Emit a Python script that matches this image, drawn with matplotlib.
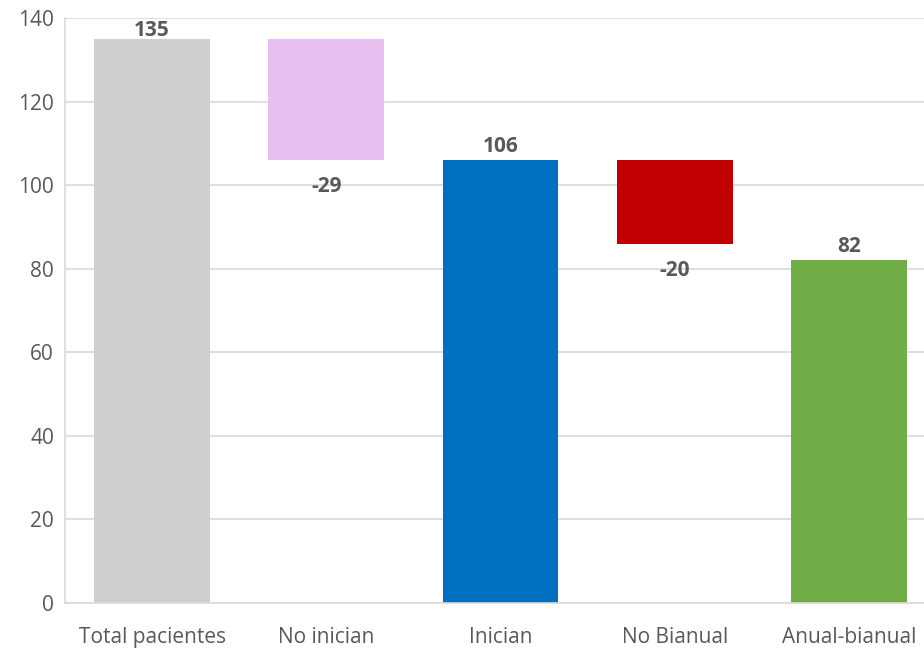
import matplotlib.pyplot as plt

plt.rcParams['font.family'] = ['Open Sans', 'DejaVu Sans']

categories = ["Total pacientes", "No inician", "Inician", "No Bianual", "Anual-bianual"]
values = [135, -29, 106, -20, 82]
is_total = [True, False, True, False, True]
colors = ["#D0CECE", "#E6C0F0", "#0070C0", "#C00000", "#70AD47"]

Y_MAX = 140

fig = plt.figure(figsize=(9.24, 6.5), dpi=100)
ax = fig.add_axes([65 / 924, 47 / 650, 871 / 924, 585 / 650])

prev_total = 0
for i, (cat, v, tot, c) in enumerate(zip(categories, values, is_total, colors)):
    if tot:
        bottom, height = 0, v
        prev_total = v
        ax.bar(i, height, bottom=bottom, width=0.665, color=c, zorder=2)
        # label sits above the bar, pushed down when near the top of the plot
        y = min(v + 0.8, Y_MAX - 5.6)
        ax.text(i, y, str(v), ha="center", va="bottom", fontsize=15,
                fontweight="bold", color="#595959")
    else:
        bottom, height = prev_total + v, -v
        ax.bar(i, height, bottom=bottom, width=0.665, color=c, zorder=2)
        ax.text(i, bottom - 3.8, str(v), ha="center", va="top", fontsize=15,
                fontweight="bold", color="#595959")

ax.set_xlim(-0.5, 4.5)
ax.set_ylim(0, Y_MAX)
ax.set_yticks(range(0, Y_MAX + 1, 20))
ax.set_xticks(range(len(categories)))
ax.set_xticklabels(categories)
ax.tick_params(axis="both", length=0, labelcolor="#595959")
ax.tick_params(axis="x", pad=17, labelsize=15)
ax.tick_params(axis="y", pad=8, labelsize=15)
ax.grid(axis="y", color="#D9D9D9", linewidth=1.2, zorder=0)
for s in ["top", "right"]:
    ax.spines[s].set_visible(False)
ax.spines["left"].set_color("#D9D9D9")
ax.spines["bottom"].set_color("#D9D9D9")
ax.spines["left"].set_linewidth(1.2)
ax.spines["bottom"].set_linewidth(1.2)

fig.savefig("out.png", dpi=100)
